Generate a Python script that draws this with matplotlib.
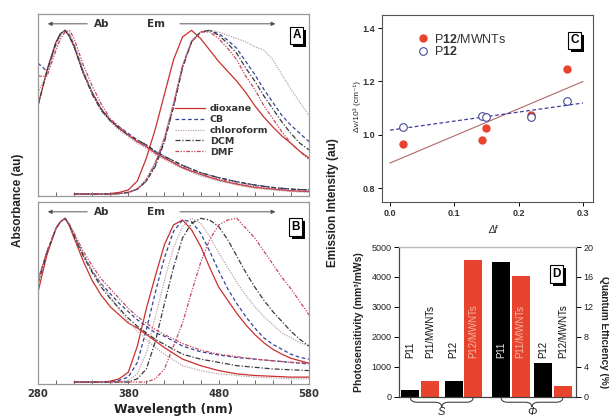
import numpy as np
import matplotlib
matplotlib.use('Agg')
import matplotlib.pyplot as plt
from matplotlib.path import Path
from matplotlib.patches import PathPatch
import matplotlib.transforms as mtransforms
import matplotlib.patheffects as pe

plt.rcParams['font.family'] = ['Liberation Sans', 'DejaVu Sans']
plt.rcParams['mathtext.fontset'] = 'custom'
plt.rcParams['mathtext.rm'] = 'Liberation Sans'
plt.rcParams['mathtext.bf'] = 'Liberation Sans:bold'
plt.rcParams['mathtext.it'] = 'Liberation Sans:italic'

# ---------------- data ----------------
solvents = ['dioxane', 'CB', 'chloroform', 'DCM', 'DMF']

abs_wl = [280, 290, 300, 305, 310, 315, 320, 330, 340, 350, 360, 370, 380, 390,
          400, 410, 420, 440, 460, 480, 500, 520, 540, 560, 580]
em_wl = [320, 350, 360, 370, 380, 390, 400, 410, 420, 430, 440, 450, 460, 470,
         480, 490, 500, 510, 520, 530, 540, 550, 560, 570, 580]

# Panel A (absorption)
absA_dioxane = [0.54, 0.76, 0.93, 0.98, 1.00, 0.96, 0.90, 0.74, 0.62, 0.52, 0.45, 0.40, 0.36, 0.32, 0.29, 0.25, 0.22, 0.16, 0.12, 0.085, 0.06, 0.04, 0.03, 0.02, 0.015]
absA_CB = [0.80, 0.75, 0.92, 0.98, 1.00, 0.97, 0.91, 0.75, 0.62, 0.52, 0.45, 0.41, 0.37, 0.33, 0.30, 0.26, 0.23, 0.175, 0.13, 0.10, 0.075, 0.055, 0.04, 0.03, 0.025]
absA_chloroform = [0.62, 0.74, 0.90, 0.97, 1.00, 0.98, 0.92, 0.76, 0.61, 0.51, 0.44, 0.39, 0.35, 0.31, 0.28, 0.24, 0.21, 0.155, 0.11, 0.08, 0.055, 0.035, 0.025, 0.015, 0.01]
absA_DCM = [0.54, 0.75, 0.93, 0.98, 1.00, 0.96, 0.90, 0.74, 0.61, 0.51, 0.45, 0.40, 0.36, 0.33, 0.30, 0.26, 0.23, 0.175, 0.13, 0.10, 0.075, 0.055, 0.04, 0.03, 0.025]
absA_DMF = [0.72, 0.72, 0.88, 0.95, 0.99, 1.00, 0.95, 0.79, 0.66, 0.55, 0.46, 0.41, 0.36, 0.32, 0.29, 0.25, 0.22, 0.165, 0.12, 0.09, 0.065, 0.045, 0.03, 0.02, 0.015]
# Panel A (emission)
emA_dioxane = [0.0, 0.0, 0.003, 0.01, 0.025, 0.08, 0.22, 0.40, 0.61, 0.82, 0.96, 1.00, 0.95, 0.88, 0.81, 0.75, 0.69, 0.62, 0.54, 0.47, 0.41, 0.355, 0.31, 0.26, 0.22]
emA_CB = [0.0, 0.0, 0.0, 0.003, 0.01, 0.03, 0.08, 0.18, 0.33, 0.54, 0.78, 0.93, 0.99, 1.00, 0.98, 0.94, 0.89, 0.81, 0.73, 0.64, 0.56, 0.48, 0.42, 0.37, 0.32]
emA_chloroform = [0.0, 0.0, 0.0, 0.003, 0.01, 0.03, 0.09, 0.20, 0.35, 0.56, 0.79, 0.94, 0.99, 1.00, 0.99, 0.97, 0.95, 0.93, 0.90, 0.88, 0.82, 0.73, 0.64, 0.56, 0.48]
emA_DCM = [0.0, 0.0, 0.0, 0.003, 0.01, 0.03, 0.08, 0.17, 0.32, 0.53, 0.77, 0.93, 0.99, 1.00, 0.97, 0.92, 0.86, 0.77, 0.69, 0.60, 0.52, 0.44, 0.37, 0.31, 0.27]
emA_DMF = [0.0, 0.0, 0.0, 0.003, 0.01, 0.03, 0.09, 0.19, 0.34, 0.55, 0.78, 0.93, 0.99, 0.99, 0.95, 0.89, 0.82, 0.72, 0.64, 0.54, 0.46, 0.38, 0.31, 0.26, 0.21]

# Panel B (absorption)
absB_dioxane = [0.55, 0.78, 0.94, 0.98, 1.00, 0.95, 0.88, 0.74, 0.62, 0.53, 0.46, 0.41, 0.36, 0.33, 0.29, 0.25, 0.21, 0.14, 0.10, 0.07, 0.05, 0.04, 0.035, 0.03, 0.03]
absB_CB = [0.62, 0.80, 0.94, 0.98, 1.00, 0.96, 0.90, 0.78, 0.68, 0.60, 0.54, 0.48, 0.43, 0.38, 0.34, 0.30, 0.28, 0.22, 0.185, 0.165, 0.15, 0.14, 0.13, 0.12, 0.11]
absB_chloroform = [0.62, 0.80, 0.94, 0.98, 1.00, 0.96, 0.90, 0.78, 0.68, 0.60, 0.52, 0.44, 0.37, 0.31, 0.26, 0.21, 0.17, 0.10, 0.07, 0.05, 0.04, 0.03, 0.025, 0.02, 0.02]
absB_DCM = [0.60, 0.79, 0.94, 0.98, 1.00, 0.96, 0.89, 0.77, 0.67, 0.58, 0.51, 0.45, 0.39, 0.34, 0.30, 0.26, 0.23, 0.17, 0.14, 0.12, 0.10, 0.09, 0.08, 0.075, 0.07]
absB_DMF = [0.62, 0.80, 0.94, 0.98, 1.00, 0.96, 0.91, 0.80, 0.71, 0.63, 0.57, 0.51, 0.45, 0.40, 0.36, 0.32, 0.29, 0.235, 0.195, 0.17, 0.155, 0.14, 0.13, 0.12, 0.115]
# Panel B (emission)
emB_dioxane = [0.0, 0.0, 0.005, 0.02, 0.06, 0.22, 0.45, 0.65, 0.84, 0.96, 0.99, 0.93, 0.83, 0.70, 0.58, 0.50, 0.42, 0.35, 0.29, 0.24, 0.20, 0.17, 0.145, 0.13, 0.115]
emB_CB = [0.0, 0.0, 0.0, 0.01, 0.03, 0.12, 0.32, 0.55, 0.76, 0.92, 0.99, 0.98, 0.91, 0.80, 0.68, 0.57, 0.48, 0.40, 0.33, 0.27, 0.23, 0.20, 0.17, 0.15, 0.14]
emB_chloroform = [0.0, 0.0, 0.0, 0.0, 0.01, 0.05, 0.18, 0.40, 0.62, 0.82, 0.95, 1.00, 0.97, 0.89, 0.79, 0.70, 0.61, 0.53, 0.46, 0.40, 0.35, 0.30, 0.27, 0.24, 0.22]
emB_DCM = [0.0, 0.0, 0.0, 0.0, 0.0, 0.02, 0.08, 0.25, 0.48, 0.70, 0.88, 0.97, 1.00, 0.99, 0.95, 0.87, 0.77, 0.67, 0.58, 0.50, 0.43, 0.37, 0.31, 0.26, 0.22]
emB_DMF = [0.0, 0.0, 0.0, 0.0, 0.0, 0.0, 0.0, 0.02, 0.08, 0.22, 0.36, 0.55, 0.73, 0.87, 0.96, 0.99, 1.00, 0.94, 0.88, 0.80, 0.72, 0.64, 0.57, 0.49, 0.41]

# Panel C
delta_f = [0.021, 0.143, 0.149, 0.219, 0.275]
dnu_p12_mwnts = [0.965, 0.980, 1.027, 1.075, 1.245]
dnu_p12 = [1.028, 1.070, 1.067, 1.067, 1.128]

# Panel D
samples = ['P11', 'P11/MWNTs', 'P12', 'P12/MWNTs']
photosensitivity = [220, 540, 540, 4560]      # mm^3/mWs
quantum_eff = [18.0, 16.1, 4.55, 1.5]          # %

# ---------------- styles ----------------
RED = '#e8432d'
styles = {
    'dioxane': dict(color='#c9302c', ls='-', lw=0.9),
    'CB': dict(color='#34449a', ls=(0, (3, 2)), lw=0.9),
    'chloroform': dict(color='#b9a3aa', ls=(0, (1, 1)), lw=0.9),
    'DCM': dict(color='#3a3a3a', ls=(0, (4, 1.5, 1, 1.5)), lw=0.9),
    'DMF': dict(color='#c8465c', ls=(0, (3, 1.2, 1, 1.2, 1, 1.2)), lw=0.9),
}
BOLDSP = dict(family='DejaVu Sans', fontweight='bold')

fig = plt.figure(figsize=(6.09, 4.16), dpi=100)
W, H = 609.0, 416.0


def px_axes(l, r, t, b):
    return fig.add_axes([l / W, 1 - b / H, (r - l) / W, (b - t) / H])


def box_label(ax, x, y, s):
    t = ax.text(x, y, s, transform=ax.transAxes, color='black', zorder=21,
                ha='center', va='center', fontsize=8.5, fontweight='bold',
                bbox=dict(boxstyle='square,pad=0.22', fc='white', ec='black', lw=0.8))
    t.get_bbox_patch().set_path_effects([
        pe.SimplePatchShadow(offset=(2.2, -2.2), shadow_rgbFace='black', alpha=1.0),
        pe.Normal()])


axA = px_axes(38, 309, 14, 196)
axB = px_axes(38, 309, 202, 384)

dataA = {'dioxane': (absA_dioxane, emA_dioxane), 'CB': (absA_CB, emA_CB),
         'chloroform': (absA_chloroform, emA_chloroform), 'DCM': (absA_DCM, emA_DCM),
         'DMF': (absA_DMF, emA_DMF)}
dataB = {'dioxane': (absB_dioxane, emB_dioxane), 'CB': (absB_CB, emB_CB),
         'chloroform': (absB_chloroform, emB_chloroform), 'DCM': (absB_DCM, emB_DCM),
         'DMF': (absB_DMF, emB_DMF)}

for ax, data in [(axA, dataA), (axB, dataB)]:
    for s in solvents:
        a, e = data[s]
        ax.plot(abs_wl, a, label=s, **styles[s])
        ax.plot(em_wl, e, **styles[s])
    ax.set_xlim(280, 580)
    ax.set_ylim(-0.012, 1.10)
    ax.set_yticks([])
    ax.set_xticks([280, 380, 480, 580])
    ax.set_xticks(np.arange(280, 581, 20), minor=True)
    ax.tick_params(axis='x', which='both', direction='in', length=3, width=0.7,
                   color='#666', pad=3.5, labelsize=7.2, labelcolor='#333')
    for t in ax.get_xticklabels():
        t.set_fontfamily('DejaVu Sans')
        t.set_fontweight('bold')
    for sp in ax.spines.values():
        sp.set_color('#999')
        sp.set_linewidth(0.9)
    ax.annotate('', xy=(287.7, 1.04), xytext=(337.6, 1.04),
                arrowprops=dict(arrowstyle='-|>', lw=0.7, color='#555', mutation_scale=6))
    ax.annotate('', xy=(546, 1.04), xytext=(434, 1.04),
                arrowprops=dict(arrowstyle='-|>', lw=0.7, color='#555', mutation_scale=6))
    ax.text(342, 1.04, 'Ab', ha='left', va='center', fontsize=7.5, color='#333', **BOLDSP)
    ax.text(400.7, 1.04, 'Em', ha='left', va='center', fontsize=7.5, color='#333', **BOLDSP)

axA.tick_params(axis='x', labelbottom=False)
box_label(axA, 0.954, 0.882, 'A')
box_label(axB, 0.950, 0.863, 'B')

legA = axA.legend(loc='upper left', bbox_to_anchor=(0.505, 0.505), frameon=False,
                  handlelength=3.2, handletextpad=0.5, labelspacing=0.2,
                  borderpad=0, borderaxespad=0,
                  prop=dict(family='DejaVu Sans', weight='bold', size=6.8))
for t in legA.get_texts():
    t.set_color('#333')

# ---------------- Panel C ----------------
axC = px_axes(382, 593, 15, 202)
axC.plot(delta_f, dnu_p12_mwnts, 'o', ms=5, color=RED, mec=RED, label=r'P$\mathbf{12}$/MWNTs', zorder=5)
axC.plot(delta_f, dnu_p12, 'o', ms=5.5, mfc='white', mec='#4a4a9a', mew=0.8, label=r'P$\mathbf{12}$', zorder=5)
xfit = np.array([0.0, 0.3])
c1 = np.polyfit(delta_f, dnu_p12_mwnts, 1)
c2 = np.polyfit(delta_f, dnu_p12, 1)
axC.plot(xfit, np.polyval(c1, xfit), '-', color='#b06868', lw=0.8, zorder=3)
axC.plot(xfit, np.polyval(c2, xfit), ls=(0, (3, 2)), color='#3d3d9e', lw=0.9, zorder=3)
axC.set_xlim(-0.0124, 0.3156)
axC.set_ylim(0.748, 1.449)
axC.set_xticks([0.0, 0.1, 0.2, 0.3])
axC.set_yticks([0.8, 1.0, 1.2, 1.4])
axC.xaxis.set_major_formatter(matplotlib.ticker.FormatStrFormatter('%.1f'))
axC.yaxis.set_major_formatter(matplotlib.ticker.FormatStrFormatter('%.1f'))
axC.tick_params(direction='out', length=3, width=0.7, labelsize=6.5, labelcolor='#333', pad=2)
for t in axC.get_xticklabels() + axC.get_yticklabels():
    t.set_fontweight('bold')
for sp in axC.spines.values():
    sp.set_color('#555')
    sp.set_linewidth(0.8)
legC = axC.legend(loc='upper left', bbox_to_anchor=(0.165, 0.905), frameon=False,
                  handlelength=1.0, handletextpad=0.4, labelspacing=-0.05,
                  borderpad=0, borderaxespad=0, fontsize=9)
for t in legC.get_texts():
    t.set_color('#333')
box_label(axC, 0.912, 0.864, 'C')

# ---------------- Panel D ----------------
axD = px_axes(399, 576, 247, 397)
axD2 = axD.twinx()
pos = np.array([0, 1, 2.2, 3.2, 4.6, 5.6, 6.75, 7.75])
bar_colors = ['black', RED, 'black', RED]
axD.bar(pos[:4], photosensitivity, width=0.92, color=bar_colors)
axD2.bar(pos[4:], quantum_eff, width=0.92, color=bar_colors)
axD.set_ylim(0, 5000)
axD2.set_ylim(0, 20)
axD.set_xlim(-0.57, 8.41)
axD.set_yticks(range(0, 5001, 1000))
axD2.set_yticks(range(0, 21, 4))
axD.tick_params(axis='x', bottom=False, labelbottom=False)
axD.tick_params(axis='y', direction='out', length=3.5, width=0.7, labelsize=6.5, labelcolor='#222', pad=2)
axD2.tick_params(axis='y', direction='out', length=3.5, width=0.7, labelsize=6.5, labelcolor='#222', pad=2)
for a in (axD, axD2):
    for sp in a.spines.values():
        sp.set_color('#444')
        sp.set_linewidth(0.8)
axD2.spines['top'].set_color('#bbb')

label_base = 1300
for i, s in enumerate(samples):
    inside = photosensitivity[i] > label_base
    col = '#f6b7a6' if (inside and bar_colors[i] == RED) else ('#e6e6e6' if inside else '#111')
    axD.text(pos[i], label_base, s, rotation=90, ha='center', va='bottom', fontsize=7, color=col, zorder=6)
    inside2 = quantum_eff[i] * 250 > label_base
    col2 = '#f6b7a6' if (inside2 and bar_colors[i] == RED) else ('#e6e6e6' if inside2 else '#111')
    axD2.text(pos[4 + i], label_base / 250.0, s, rotation=90, ha='center', va='bottom', fontsize=7, color=col2, zorder=6)


def brace(ax, x0, x1, label):
    xm = (x0 + x1) / 2.0
    tr = mtransforms.blended_transform_factory(ax.transData, ax.transAxes)
    d1, d2, e = -0.035, -0.068, 0.35
    verts = [(x0, 0), (x0, d1), (x0 + e, d1), (xm - e, d1), (xm, d1), (xm, d2),
             (xm, d2), (xm, d1), (xm + e, d1), (x1 - e, d1), (x1, d1), (x1, 0)]
    M, C3, L = Path.MOVETO, Path.CURVE3, Path.LINETO
    codes = [M, C3, C3, L, C3, C3, M, C3, C3, L, C3, C3]
    ax.add_patch(PathPatch(Path(verts, codes), fill=False, lw=0.8, ec='#444',
                           transform=tr, clip_on=False))
    ax.text(xm, -0.098, label, transform=tr, ha='center', va='center',
            fontsize=8, style='italic', color='#222', clip_on=False)


brace(axD, pos[0], pos[3], 'S')
brace(axD, pos[4], pos[7], 'Φ')
box_label(axD, 0.89, 0.82, 'D')

# ---------------- outer labels ----------------
fig.text(18 / W, 1 - 200 / H, 'Absorbance (au)', rotation=90, ha='center', va='center',
         fontsize=8.5, fontweight='bold', color='#222')
fig.text(333 / W, 1 - 203 / H, 'Emission Intensity (au)', rotation=90, ha='center', va='center',
         fontsize=8.5, fontweight='bold', color='#222')
fig.text(174 / W, 1 - 409 / H, 'Wavelength (nm)', ha='center', va='center',
         fontsize=8.8, color='#222', **BOLDSP)
fig.text(357 / W, 1 - 106 / H, 'Δν/10³ (cm⁻¹)', rotation=90, ha='center', va='center',
         fontsize=6, color='#222')
fig.text(493 / W, 1 - 230 / H, 'Δf', ha='center', va='center', fontsize=7,
         style='italic', color='#222')
fig.text(359 / W, 1 - 322 / H, 'Photosensitivity (mm³/mWs)', rotation=90, ha='center', va='center',
         fontsize=7.5, fontweight='bold', color='#222')
fig.text(604 / W, 1 - 332 / H, 'Quantum Efficiency (%)', rotation=270, ha='center', va='center',
         fontsize=7.2, fontweight='bold', color='#222')

fig.savefig('out.png', dpi=100)
